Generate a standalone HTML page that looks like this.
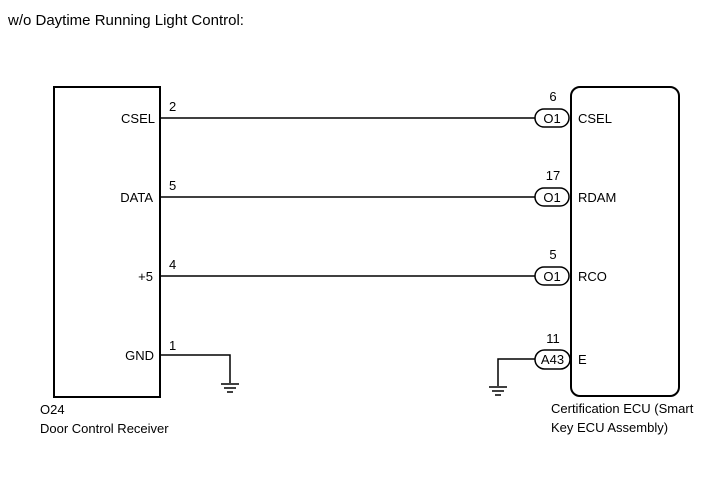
<!DOCTYPE html>
<html><head><meta charset="utf-8"><style>
html,body{margin:0;padding:0;background:#fff;}
svg{display:block;font-family:"Liberation Sans",Arial,sans-serif;}
</style></head><body>
<svg width="713" height="481" viewBox="0 0 713 481" xmlns="http://www.w3.org/2000/svg">
<text x="8" y="25" font-size="15" fill="#000">w/o Daytime Running Light Control:</text>
<g stroke="#000" stroke-width="2" fill="none">
<rect x="54" y="87" width="106" height="310"/>
<rect x="571" y="87" width="108" height="309" rx="9"/>
</g>
<g stroke="#000" stroke-width="1.5" fill="none">
<line x1="160" y1="118" x2="535" y2="118"/>
<line x1="160" y1="197" x2="535" y2="197"/>
<line x1="160" y1="276" x2="535" y2="276"/>
<polyline points="160,355 230,355 230,383"/>
<line x1="221" y1="384" x2="239" y2="384"/>
<line x1="224" y1="388" x2="236" y2="388"/>
<line x1="227" y1="392" x2="233" y2="392"/>
<polyline points="535,359 498,359 498,386"/>
<line x1="489" y1="387" x2="507" y2="387"/>
<line x1="492" y1="391" x2="504" y2="391"/>
<line x1="495" y1="395" x2="501" y2="395"/>
<rect x="535" y="109" width="34" height="18" rx="9" fill="#fff"/>
<rect x="535" y="188" width="34" height="18" rx="9" fill="#fff"/>
<rect x="535" y="267" width="34" height="18" rx="9" fill="#fff"/>
<rect x="535" y="350" width="35" height="19" rx="9.5" fill="#fff"/>
</g>
<g font-size="13" fill="#000">
<text x="155" y="123" text-anchor="end">CSEL</text>
<text x="153" y="202" text-anchor="end">DATA</text>
<text x="153" y="281" text-anchor="end">+5</text>
<text x="154" y="360" text-anchor="end">GND</text>
<text x="169" y="111">2</text>
<text x="169" y="190">5</text>
<text x="169" y="269">4</text>
<text x="169" y="350">1</text>
<text x="552" y="123" text-anchor="middle">O1</text>
<text x="552" y="202" text-anchor="middle">O1</text>
<text x="552" y="281" text-anchor="middle">O1</text>
<text x="552.5" y="364" text-anchor="middle">A43</text>
<text x="553" y="101" text-anchor="middle">6</text>
<text x="553" y="180" text-anchor="middle">17</text>
<text x="553" y="259" text-anchor="middle">5</text>
<text x="553" y="343" text-anchor="middle">11</text>
<text x="578" y="123">CSEL</text>
<text x="578" y="202">RDAM</text>
<text x="578" y="281">RCO</text>
<text x="578" y="364">E</text>
<text x="40" y="414">O24</text>
<text x="40" y="433">Door Control Receiver</text>
<text x="551" y="413">Certification ECU (Smart</text>
<text x="551" y="432">Key ECU Assembly)</text>
</g>
</svg>
</body></html>
